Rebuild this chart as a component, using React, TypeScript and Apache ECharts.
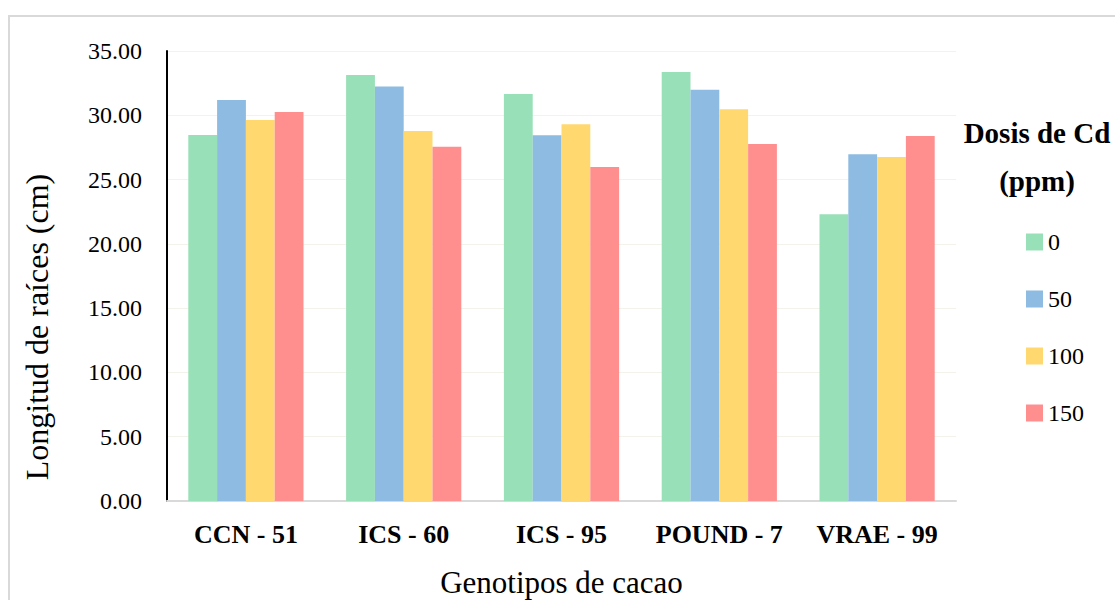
import React, { useEffect, useRef } from "react";
import * as echarts from "echarts";

const categories = ["CCN - 51", "ICS - 60", "ICS - 95", "POUND - 7", "VRAE - 99"];
const seriesNames = ["0", "50", "100", "150"];
const dose0 = [28.47, 33.13, 31.66, 33.37, 22.3];
const dose50 = [31.19, 32.23, 28.44, 31.99, 26.97];
const dose100 = [29.63, 28.78, 29.3, 30.46, 26.76];
const dose150 = [30.26, 27.56, 25.98, 27.77, 28.39];
const colors = ["#98E0B7", "#8DBBE1", "#FFD96F", "#FF8F8F"];

const FONT = "'Times New Roman', 'Liberation Serif', Times, serif";

export default function App() {
  const ref = useRef<HTMLDivElement>(null);
  useEffect(() => {
    if (!ref.current) return;
    const chart = echarts.init(ref.current, null, { renderer: "svg" });
    const values = [dose0, dose50, dose100, dose150];
    chart.setOption({
      animation: false,
      backgroundColor: "#ffffff",
      textStyle: { fontFamily: FONT },
      graphic: [
        {
          type: "rect",
          shape: { x: 9, y: 16, width: 1200, height: 700 },
          style: { fill: "none", stroke: "#d9d9d9", lineWidth: 2 },
          silent: true,
        },
        {
          type: "text",
          x: 37,
          y: 327,
          rotation: Math.PI / 2,
          style: {
            text: "Longitud de raíces (cm)",
            fontFamily: FONT,
            fontSize: 32,
            fill: "#000",
            align: "center",
            verticalAlign: "middle",
          },
        },
        {
          type: "text",
          x: 1037,
          y: 133,
          style: {
            text: "Dosis de Cd",
            fontFamily: FONT,
            fontSize: 29,
            fontWeight: "bold",
            fill: "#000",
            align: "center",
            verticalAlign: "middle",
          },
        },
        {
          type: "text",
          x: 1037,
          y: 181,
          style: {
            text: "(ppm)",
            fontFamily: FONT,
            fontSize: 29,
            fontWeight: "bold",
            fill: "#000",
            align: "center",
            verticalAlign: "middle",
          },
        },
      ],
      legend: {
        orient: "vertical",
        left: 1026,
        top: 230,
        padding: 0,
        itemWidth: 17,
        itemHeight: 17,
        itemGap: 33,
        icon: "rect",
        data: seriesNames,
        textStyle: { fontFamily: FONT, fontSize: 24, color: "#000" },
      },
      grid: { left: 167, right: 159, top: 51, bottom: 99, containLabel: false, outerBoundsMode: "none" },
      xAxis: {
        type: "category",
        data: categories,
        name: "Genotipos de cacao",
        nameLocation: "middle",
        nameGap: 66,
        nameTextStyle: { fontFamily: FONT, fontSize: 31, color: "#000" },
        axisLine: { lineStyle: { color: "#d9d9d9", width: 2 } },
        axisTick: { show: false },
        axisLabel: {
          interval: 0,
          fontFamily: FONT,
          fontSize: 26,
          fontWeight: "bold",
          color: "#000",
          margin: 20,
        },
      },
      yAxis: {
        type: "value",
        min: 0,
        max: 35,
        interval: 5,
        axisLine: { show: true, lineStyle: { color: "#000", width: 2 } },
        axisTick: { show: false },
        splitLine: { lineStyle: { color: "#f3f3ec", width: 1 } },
        axisLabel: {
          fontFamily: FONT,
          fontSize: 24,
          color: "#000",
          margin: 25,
          formatter: (v: number) => v.toFixed(2),
        },
      },
      series: seriesNames.map((n, i) => ({
        name: n,
        type: "bar",
        data: values[i],
        barGap: "0%",
        barCategoryGap: "27%",
        itemStyle: { color: colors[i] },
      })),
    });
    return () => chart.dispose();
  }, []);
  return (
    <div
      ref={ref}
      style={{ position: "absolute", left: 0, top: 0, width: 1115, height: 600 }}
    />
  );
}
